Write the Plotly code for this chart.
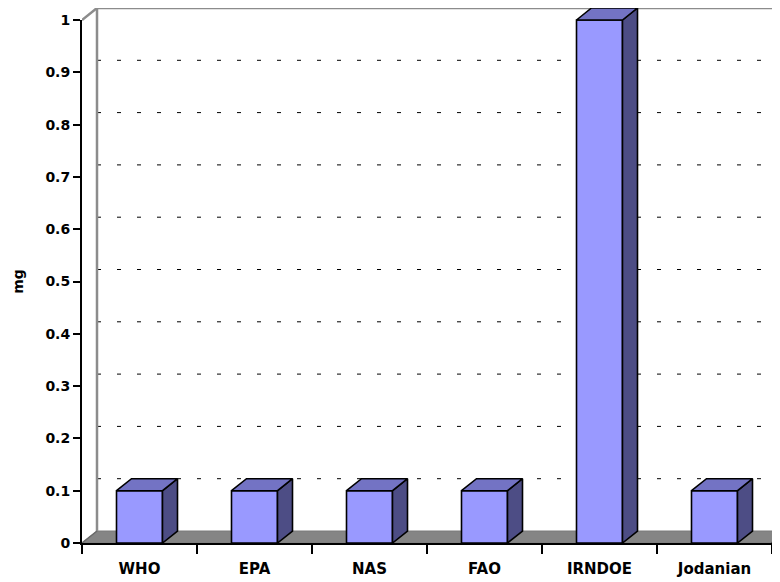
import plotly.graph_objects as go

categories = ["WHO", "EPA", "NAS", "FAO", "IRNDOE", "Jodanian"]
values = [0.1, 0.1, 0.1, 0.1, 1.0, 0.1]
y_ticks = [0, 0.1, 0.2, 0.3, 0.4, 0.5, 0.6, 0.7, 0.8, 0.9, 1.0]
y_tick_labels = ["0", "0.1", "0.2", "0.3", "0.4", "0.5", "0.6", "0.7", "0.8", "0.9", "1"]
y_title = "mg"

OFF = 8  # default page body margin
W, H = 780 - OFF, 582 - OFF
LEFT, RIGHT_AX, ZERO_PX, ONE_PX = 82 - OFF, 772 - OFF, 543 - OFF, 20 - OFF
PX_X = (RIGHT_AX - LEFT) / len(categories)
PX_Y = ZERO_PX - ONE_PX
XMAX_BIG = -0.5 + (W - LEFT) / PX_X
YMAX_BIG = ZERO_PX / PX_Y
DX = 15 / PX_X
DY = 12 / PX_Y
HALF = 0.2

FRONT = "#9999FF"
TOP = "#7373C4"
SIDE = "#4D4D85"
FLOOR = "#858585"
WALL = "#8C8C8C"
XFONT = dict(family="DejaVu Sans, Verdana, sans-serif", size=15, color="black", weight="bold")
YFONT = dict(family="DejaVu Sans, Verdana, sans-serif", size=14, color="black", weight="bold")

fig = go.Figure()

def poly(xs, ys, fill, lw=1.6, lc="black", dash=None, fillit=True):
    fig.add_trace(go.Scatter(
        x=xs, y=ys, xaxis="x2", yaxis="y2", mode="lines",
        fill="toself" if fillit else None, fillcolor=fill,
        line=dict(color=lc, width=lw, dash=dash),
        hoverinfo="skip", showlegend=False))

n = len(categories)
# floor
poly([-0.5, n - 0.5, n - 0.5 + DX, -0.5 + DX, -0.5], [0, 0, DY, DY, 0], FLOOR, lw=1, lc="#7a7a7a")
# back wall gridlines
for v in y_ticks[1:-1]:
    poly([-0.5 + DX, XMAX_BIG + 0.3], [v + DY, v + DY], None, lw=1, lc="black", dash="4px,16px", fillit=False)
# wall edges
poly([-0.5 + DX, -0.5 + DX], [DY, y_ticks[-1] + DY], None, lw=2.5, lc=WALL, fillit=False)
poly([-0.5, -0.5 + DX, XMAX_BIG + 0.3], [y_ticks[-1], y_ticks[-1] + DY, y_ticks[-1] + DY], None, lw=2.5, lc=WALL, fillit=False)
poly([-0.5, -0.5 + DX], [0, DY], None, lw=1.5, lc="#6a6a6a", fillit=False)
poly([n - 0.5, n - 0.5 + DX], [0, DY], None, lw=2, lc="black", fillit=False)

# bars
for i, v in enumerate(values):
    x0, x1 = i - HALF, i + HALF
    poly([x0, x1, x1, x0, x0], [0, 0, v, v, 0], FRONT)
    poly([x1, x1 + DX, x1 + DX, x1, x1], [0, DY, v + DY, v, 0], SIDE)
    poly([x0, x1, x1 + DX, x0 + DX, x0], [v, v, v + DY, v + DY, v], TOP)

# invisible data trace to carry the visible axes
fig.add_trace(go.Scatter(x=categories, y=values, mode="markers",
                         marker=dict(opacity=0), hoverinfo="skip", showlegend=False))

fig.update_layout(
    width=W, height=H, margin=dict(l=0, r=0, t=0, b=0, autoexpand=False),
    paper_bgcolor="white", plot_bgcolor="rgba(0,0,0,0)",
    xaxis=dict(domain=[LEFT / W, RIGHT_AX / W], type="category", range=[-0.5, n - 0.5],
               tickson="boundaries", ticks="outside", ticklen=9, tickwidth=2, tickcolor="black",
               showline=True, linewidth=2, linecolor="black", showgrid=False, zeroline=False,
               tickfont=XFONT, anchor="y", automargin=False, ticklabelstandoff=11),
    yaxis=dict(domain=[(H - ZERO_PX) / H, (H - ONE_PX) / H], range=[0, 1],
               tickvals=y_ticks, ticktext=y_tick_labels,
               ticks="outside", ticklen=7, tickwidth=2, tickcolor="black",
               showline=True, linewidth=2, linecolor="black", showgrid=False, zeroline=False,
               tickfont=YFONT, anchor="x", automargin=False,
               title=dict(text=y_title, font=YFONT, standoff=18)),
    xaxis2=dict(domain=[LEFT / W, 1], range=[-0.5, XMAX_BIG], visible=False, anchor="y2"),
    yaxis2=dict(domain=[(H - ZERO_PX) / H, 1], range=[0, YMAX_BIG], visible=False, anchor="x2"),
)

fig.write_html("out.html")
